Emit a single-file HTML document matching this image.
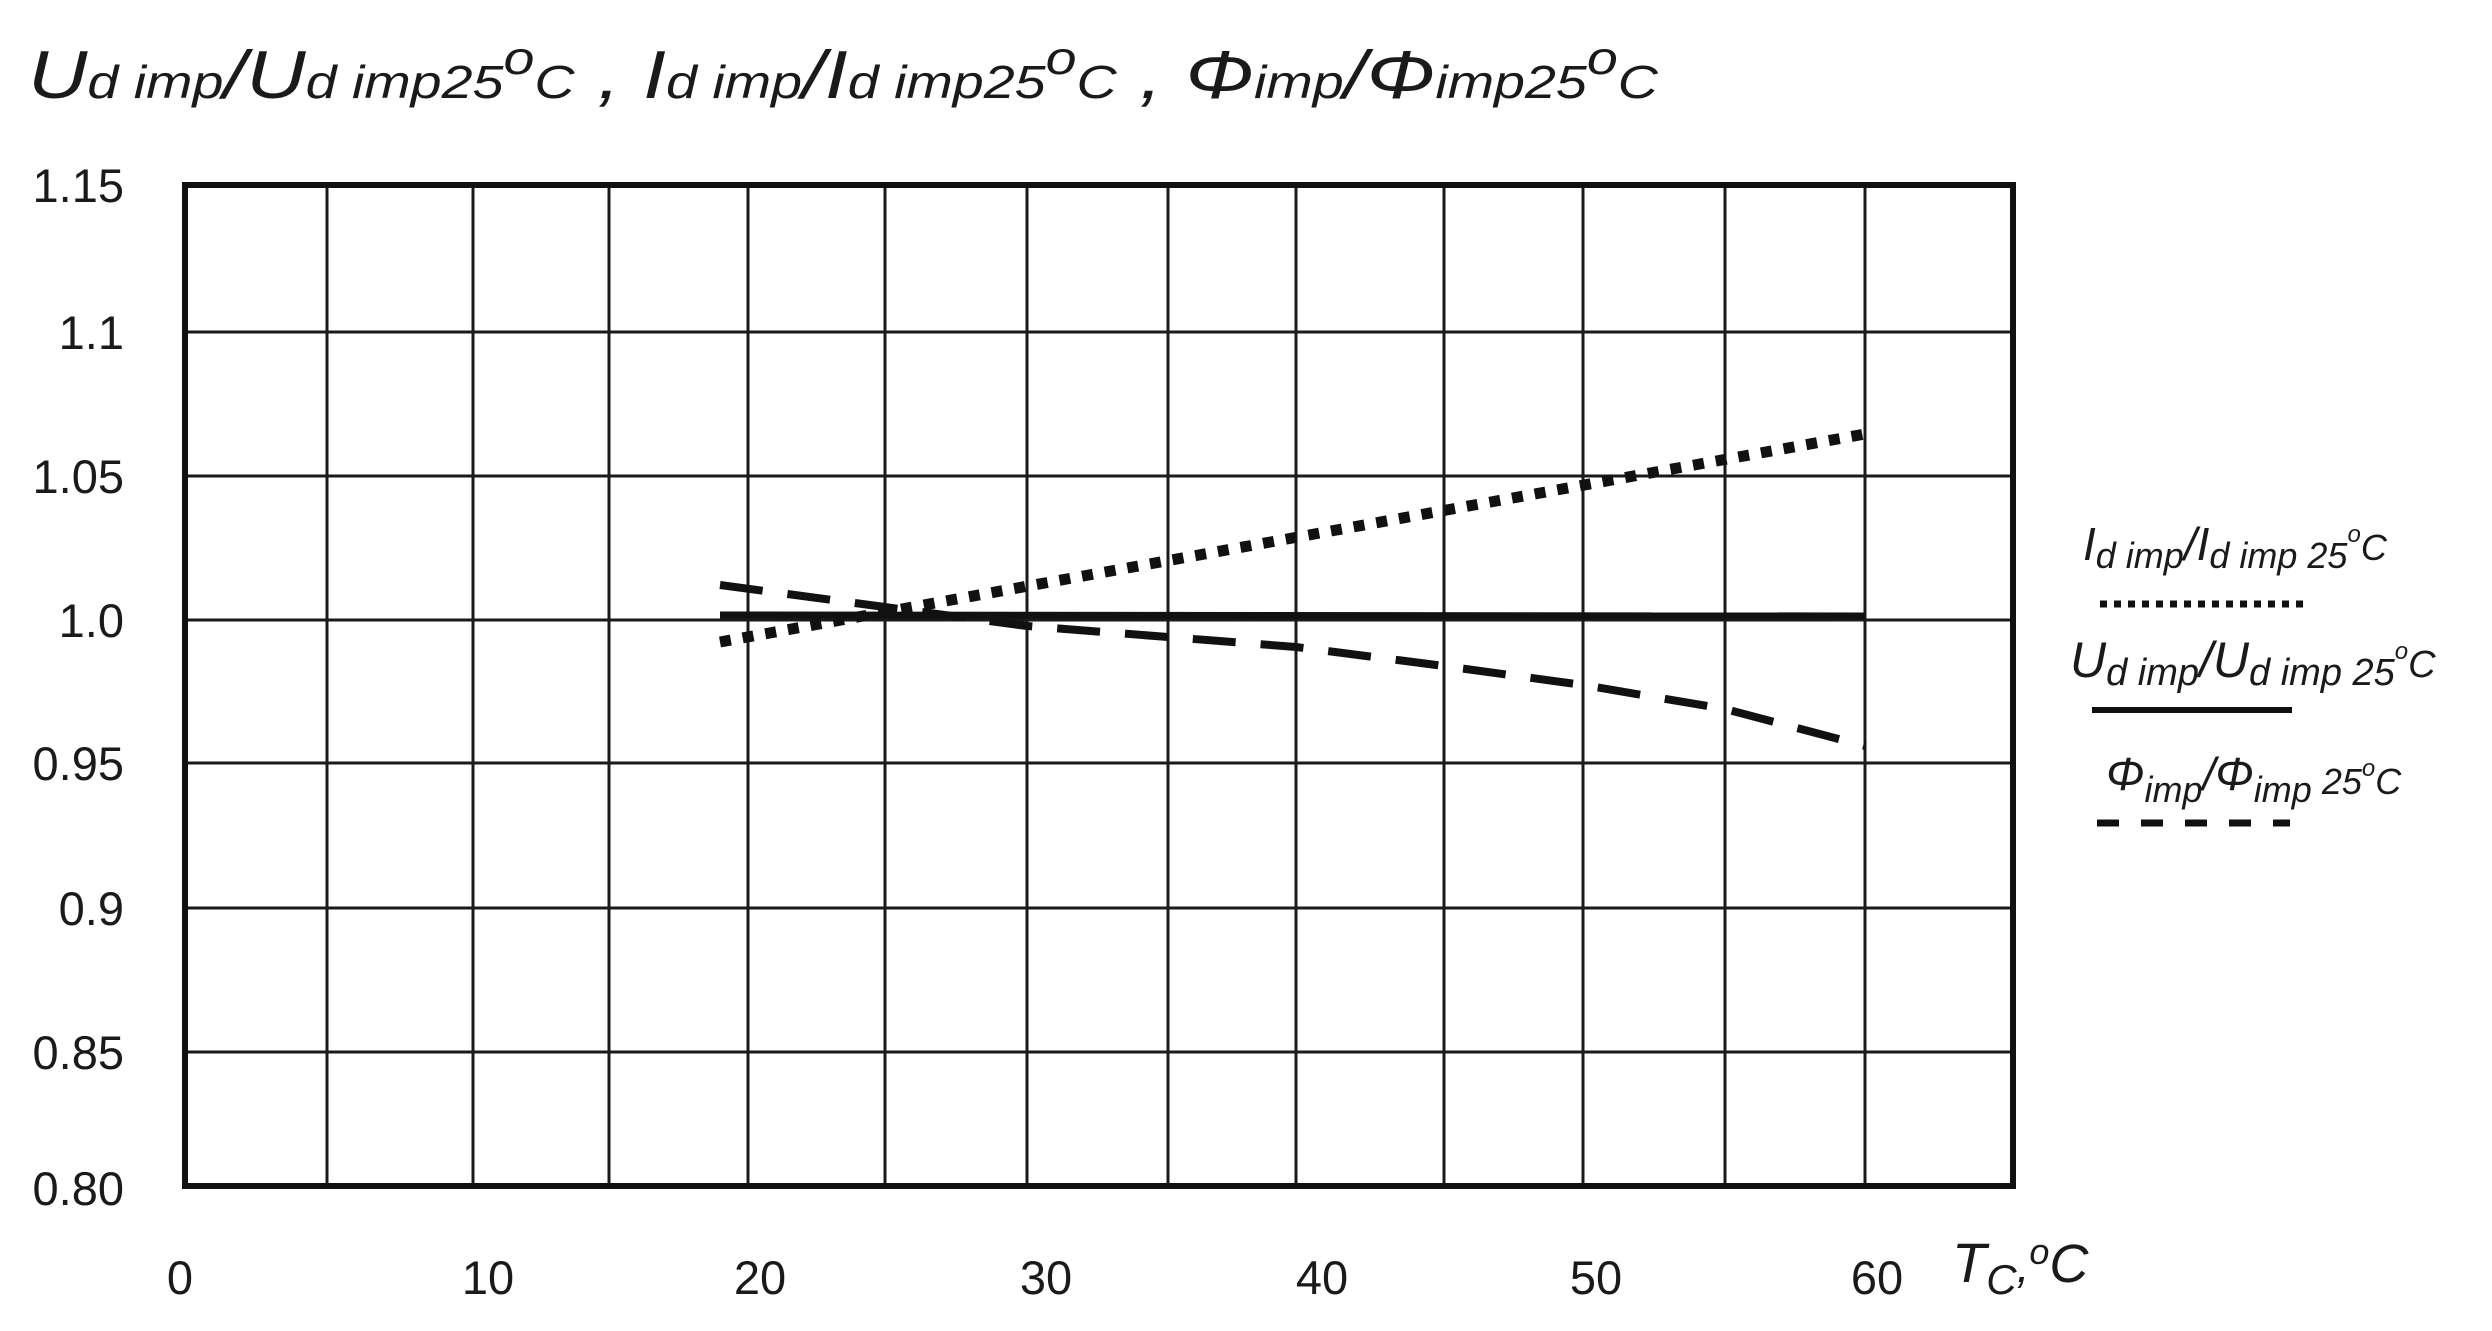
<!DOCTYPE html>
<html><head><meta charset="utf-8"><style>
html,body{margin:0;padding:0;background:#fff;}
svg{display:block;}
text{font-family:"Liberation Sans",Arial,sans-serif;fill:#1a1a1a;}
</style></head><body>
<svg width="2492" height="1331" viewBox="0 0 2492 1331" xmlns="http://www.w3.org/2000/svg">
<text x="28" y="98" font-size="68" font-style="italic" textLength="1630" lengthAdjust="spacingAndGlyphs">U<tspan font-size="46">d imp</tspan>/U<tspan font-size="46">d imp25</tspan><tspan font-size="46" dy="-24">o</tspan><tspan font-size="46" dy="24">C</tspan> , I<tspan font-size="46">d imp</tspan>/I<tspan font-size="46">d imp25</tspan><tspan font-size="46" dy="-24">o</tspan><tspan font-size="46" dy="24">C</tspan> , Φ<tspan font-size="46">imp</tspan>/Φ<tspan font-size="46">imp25</tspan><tspan font-size="46" dy="-24">o</tspan><tspan font-size="46" dy="24">C</tspan></text>
<g stroke="#1a1a1a" stroke-width="3">
<line x1="327" y1="183" x2="327" y2="1187"/><line x1="473" y1="183" x2="473" y2="1187"/><line x1="609" y1="183" x2="609" y2="1187"/><line x1="748" y1="183" x2="748" y2="1187"/><line x1="885" y1="183" x2="885" y2="1187"/><line x1="1027" y1="183" x2="1027" y2="1187"/><line x1="1168" y1="183" x2="1168" y2="1187"/><line x1="1296" y1="183" x2="1296" y2="1187"/><line x1="1444" y1="183" x2="1444" y2="1187"/><line x1="1583" y1="183" x2="1583" y2="1187"/><line x1="1725" y1="183" x2="1725" y2="1187"/><line x1="1865" y1="183" x2="1865" y2="1187"/>
<line x1="185" y1="332" x2="2013" y2="332"/><line x1="185" y1="476" x2="2013" y2="476"/><line x1="185" y1="620" x2="2013" y2="620"/><line x1="185" y1="763" x2="2013" y2="763"/><line x1="185" y1="908" x2="2013" y2="908"/><line x1="185" y1="1052" x2="2013" y2="1052"/>
</g>
<rect x="185" y="185" width="1828" height="1001" fill="none" stroke="#111" stroke-width="6"/>
<g font-size="47" text-anchor="end">
<text x="124" y="202">1.15</text><text x="124" y="349">1.1</text><text x="124" y="493">1.05</text><text x="124" y="637">1.0</text><text x="124" y="780">0.95</text><text x="124" y="925">0.9</text><text x="124" y="1069">0.85</text><text x="124" y="1205">0.80</text>
</g>
<g font-size="47" text-anchor="middle">
<text x="180" y="1294">0</text><text x="488" y="1294">10</text><text x="760" y="1294">20</text><text x="1046" y="1294">30</text><text x="1322" y="1294">40</text><text x="1596" y="1294">50</text><text x="1877" y="1294">60</text>
</g>
<text x="1952" y="1282" font-size="56" font-style="italic">T<tspan font-size="42" dy="12">C</tspan><tspan dy="-12" font-size="46">,</tspan><tspan font-size="36" dy="-18">o</tspan><tspan font-size="54" dy="18">C</tspan></text>
<line x1="720" y1="615" x2="1865" y2="616" stroke="#111" stroke-width="7"/>
<line x1="720" y1="642" x2="1865" y2="434" stroke="#111" stroke-width="11" stroke-dasharray="11 12"/>
<polyline points="720,585 1027,626 1296,647 1444,666 1583,685 1725,709 1865,746" fill="none" stroke="#111" stroke-width="8" stroke-dasharray="43 25"/>
<g font-style="italic">
<text x="2083" y="560" font-size="46">I<tspan font-size="36" dy="8">d imp</tspan><tspan dy="-8">/I</tspan><tspan font-size="36" dy="8">d imp 25</tspan><tspan font-size="24" dy="-26">o</tspan><tspan font-size="36" dy="18">C</tspan></text>
<text x="2070" y="677" font-size="50">U<tspan font-size="38" dy="8">d imp</tspan><tspan dy="-8">/U</tspan><tspan font-size="38" dy="8">d imp 25</tspan><tspan font-size="24" dy="-26">o</tspan><tspan font-size="38" dy="18">C</tspan></text>
<text x="2106" y="790" font-size="46">Φ<tspan font-size="36" dy="12">imp</tspan><tspan dy="-12">/Φ</tspan><tspan font-size="36" dy="12">imp</tspan><tspan font-size="36" dy="-8"> 25</tspan><tspan font-size="24" dy="-18">o</tspan><tspan font-size="36" dy="18">C</tspan></text>
</g>
<line x1="2100" y1="604" x2="2305" y2="604" stroke="#111" stroke-width="7" stroke-dasharray="7 7"/>
<line x1="2092" y1="710" x2="2292" y2="710" stroke="#111" stroke-width="6"/>
<line x1="2097" y1="823" x2="2290" y2="823" stroke="#111" stroke-width="7" stroke-dasharray="22 22"/>
</svg>
</body></html>
